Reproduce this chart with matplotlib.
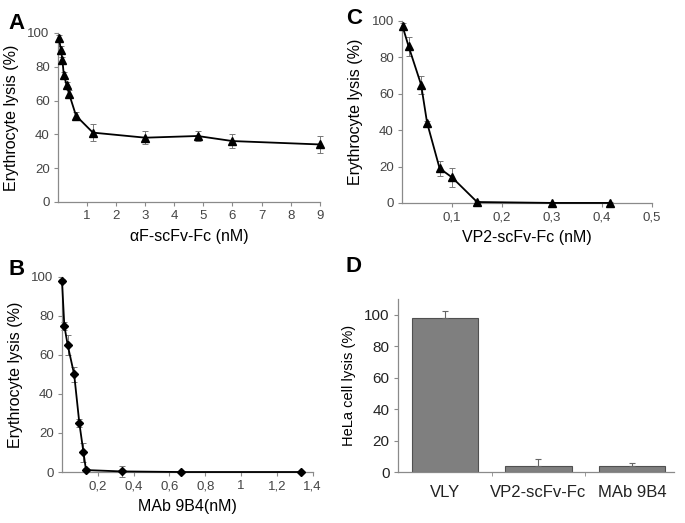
import numpy as np
import matplotlib
matplotlib.use("Agg")
import matplotlib.pyplot as plt

plt.rcParams["font.family"] = ["Liberation Sans", "DejaVu Sans"]

# Panel A: alphaF-scFv-Fc
a_x = [0.03, 0.1, 0.15, 0.2, 0.3, 0.38, 0.62, 1.2, 3.0, 4.8, 6.0, 9.0]
a_y = [97, 90, 84, 75, 69, 64, 51, 41, 38, 39, 36, 34]
a_err = [2, 2, 2, 2, 2, 2, 2, 5, 4, 3, 4, 5]

# Panel B: MAb 9B4
b_x = [0.0, 0.013, 0.032, 0.068, 0.097, 0.12, 0.134, 0.333, 0.667, 1.333]
b_y = [98, 75, 65, 50, 25, 10, 1, 0.3, 0, 0]
b_err = [1, 2, 5, 4, 2, 5, 1, 3, 0.5, 0.5]

# Panel C: VP2-scFv-Fc
c_x = [0.001, 0.013, 0.038, 0.05, 0.075, 0.1, 0.15, 0.3, 0.415]
c_y = [97, 86, 65, 44, 19, 14, 0.5, 0, 0]
c_err = [2, 5, 5, 1, 4, 5, 0.5, 0.3, 0.3]

# Panel D: HeLa cell lysis
d_labels = ["VLY", "VP2-scFv-Fc", "MAb 9B4"]
d_vals = [98, 4, 4]
d_err = [4, 4, 2]

GRAY = "#8a8a8a"
TXT = "#444444"


def style_axes(ax, tick_color=TXT):
    for s in ["top", "right"]:
        ax.spines[s].set_visible(False)
    for s in ["left", "bottom"]:
        ax.spines[s].set_color(GRAY)
        ax.spines[s].set_linewidth(0.9)
    ax.tick_params(direction="out", length=3, width=0.8, color=GRAY,
                   labelcolor=tick_color, labelsize=9.5, pad=3)


def comma(vals):
    return [f"{v:g}".replace(".", ",") for v in vals]


def line_panel(ax, x, y, err, marker, ms, xlim, xticks, xlabel):
    ax.errorbar(x, y, yerr=err, fmt="none", ecolor="#777777", elinewidth=0.7,
                capsize=2.5, capthick=0.7, zorder=2, clip_on=False)
    ax.plot(x, y, color="black", lw=1.3, marker=marker, ms=ms,
            markerfacecolor="black", markeredgecolor="black", zorder=3,
            clip_on=False)
    ax.set_xlim(*xlim)
    ax.set_ylim(0, 100)
    ax.set_yticks(range(0, 101, 20))
    ax.set_xticks(xticks)
    ax.set_xticklabels(comma(xticks))
    ax.set_xlabel(xlabel, fontsize=11.5, labelpad=5)
    ax.set_ylabel("Erythrocyte lysis (%)", fontsize=11.5, labelpad=6)
    style_axes(ax)


fig = plt.figure(figsize=(6.85, 5.23), dpi=100)

ax_a = fig.add_axes([0.0847, 0.614, 0.382, 0.323])
line_panel(ax_a, a_x, a_y, a_err, "^", 6, (0, 9), list(range(1, 10)),
           "\u03b1F-scFv-Fc (nM)")

ax_c = fig.add_axes([0.587, 0.612, 0.365, 0.348])
line_panel(ax_c, c_x, c_y, c_err, "^", 6, (0, 0.5),
           [0.1, 0.2, 0.3, 0.4, 0.5], "VP2-scFv-Fc (nM)")

ax_b = fig.add_axes([0.0905, 0.0975, 0.366, 0.373])
line_panel(ax_b, b_x, b_y, b_err, "D", 4.5, (0, 1.4),
           [0.2, 0.4, 0.6, 0.8, 1.0, 1.2, 1.4], "MAb 9B4(nM)")

ax_d = fig.add_axes([0.581, 0.0975, 0.403, 0.331])
pos = np.arange(len(d_labels))
ax_d.bar(pos, d_vals, width=0.71, color="#7f7f7f", edgecolor="#505050",
         linewidth=0.8, zorder=2)
ax_d.errorbar(pos, d_vals, yerr=[[0] * len(d_err), d_err], fmt="none",
              ecolor="#666666", elinewidth=0.8, capsize=2.5, capthick=0.8, zorder=3)
ax_d.set_xlim(-0.5, 2.45)
ax_d.set_ylim(0, 110)
ax_d.set_yticks(range(0, 101, 20))
ax_d.set_xticks(pos)
ax_d.set_xticklabels(d_labels)
ax_d.set_xticks([0.5, 1.5], minor=True)
ax_d.set_ylabel("HeLa cell lysis (%)", fontsize=10.5, labelpad=6)
style_axes(ax_d, tick_color="#222222")
ax_d.tick_params(axis="x", which="major", length=0, labelsize=12, pad=9)
ax_d.tick_params(axis="x", which="minor", length=3, color=GRAY)
ax_d.tick_params(axis="y", labelsize=11)

for lbl, (x, y) in zip("ABCD", [(0.013, 0.955), (0.013, 0.485),
                                 (0.505, 0.965), (0.505, 0.49)]):
    fig.text(x, y, lbl, fontsize=16, fontweight="bold", va="center", ha="left")

fig.savefig("out.png", dpi=100)
